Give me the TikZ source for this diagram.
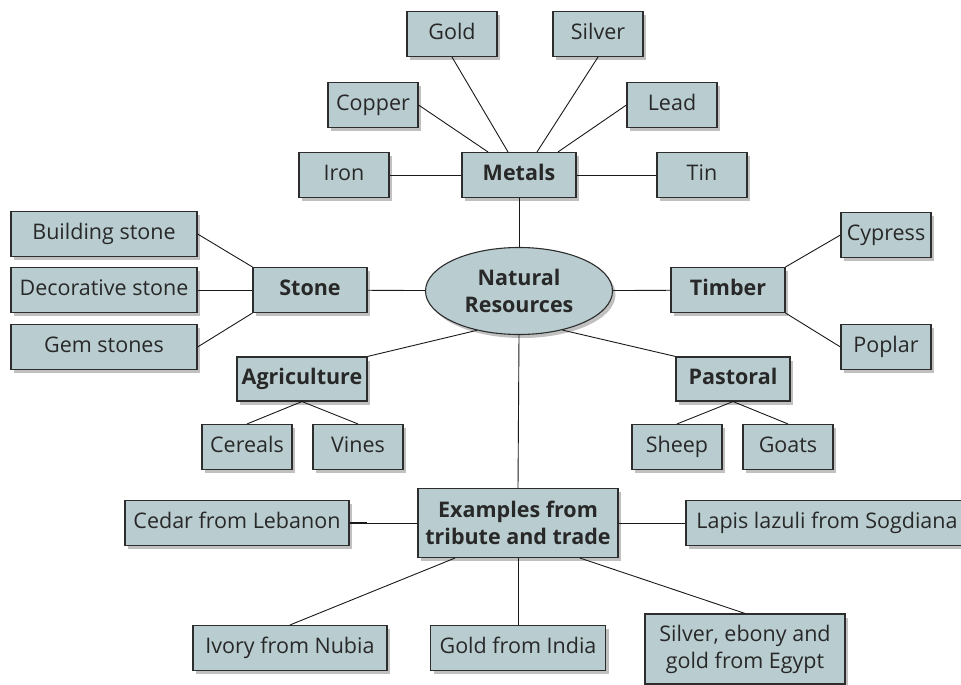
\documentclass[tikz,border=0pt]{standalone}
\usepackage{fontspec}
\setmainfont{Open Sans}
\usepackage{tikz}
\usepackage{xcolor}
\usetikzlibrary{shadows}
\usetikzlibrary{shapes.geometric}
\definecolor{res-fill}{RGB}{185,205,208}
\definecolor{res-line}{RGB}{45,45,45}
\definecolor{res-text}{RGB}{40,40,40}
\tikzset{
    res-box/.style = {draw=res-line, fill=res-fill, line width=1.1pt, rectangle, inner sep=0pt,
        minimum width=90pt, minimum height=45pt, text=res-text, align=center,
        text height=15pt, text depth=4pt,
        font=\fontsize{21.5}{27}\selectfont,
        drop shadow={shadow xshift=3pt, shadow yshift=-3.5pt, fill=black!45, opacity=0.55}},
    res-box-title/.style = {res-box, font=\fontsize{21.5}{27}\selectfont\bfseries, minimum width=114pt},
    res-two-lines/.style = {text height={}, text depth={}},
    res-ellipse/.style = {res-box-title, res-two-lines, ellipse, minimum width=187pt, minimum height=87pt},
    res-link/.style = {draw=black!90, line width=0.9pt},
}

\begin{document}
\begin{tikzpicture}[x=1pt, y=-1pt]
\useasboundingbox (0,0) rectangle (961,685);

\node [res-ellipse] (natres) at (519,291) {Natural\\Resources};

\node [res-box-title] (metals) at (519,175) {Metals};
\node [res-box] (gold) at (452,34) {Gold};
\node [res-box] (silver) at (598,34) {Silver};
\node [res-box] (copper) at (373,105) {Copper};
\node [res-box] (lead) at (672,105) {Lead};
\node [res-box] (iron) at (344,175) {Iron};
\node [res-box] (tin) at (702,175) {Tin};

\node [res-box-title] (stone) at (310,290) {Stone};
\node [res-box, minimum width=186pt] (building) at (104,234) {Building stone};
\node [res-box, minimum width=186pt] (decorative) at (104,290) {Decorative stone};
\node [res-box, minimum width=186pt] (gem) at (104,347) {Gem stones};

\node [res-box-title] (timber) at (728,290) {Timber};
\node [res-box] (cypress) at (886,235) {Cypress};
\node [res-box] (poplar) at (886,347) {Poplar};

\node [res-box-title, minimum width=130pt, minimum height=44pt] (agri) at (302,379) {Agriculture};
\node [res-box] (cereals) at (247,447) {Cereals};
\node [res-box] (vines) at (358,447) {Vines};

\node [res-box-title, minimum height=44pt] (pastoral) at (733,379) {Pastoral};
\node [res-box] (sheep) at (677,447) {Sheep};
\node [res-box] (goats) at (788,447) {Goats};

\node [res-box-title, res-two-lines, minimum width=200pt, minimum height=69pt] (exam) at (518,523) {Examples from\\tribute and trade};
\node [res-box, minimum width=224pt] (cedar) at (237,523) {Cedar from Lebanon};
\node [res-box, minimum width=282pt] (lapis) at (827,523) {Lapis lazuli from Sogdiana};
\node [res-box, minimum width=194pt] (ivory) at (290,648) {Ivory from Nubia};
\node [res-box, minimum width=175pt] (goldindia) at (518,648) {Gold from India};
\node [res-box, res-two-lines, minimum width=200pt, minimum height=70pt] (silverebony) at (745,649) {Silver, ebony and\\gold from Egypt};

\path [res-link] (metals.south) -- (natres.north);
\path [res-link] (copper.east) -- ([xshift=-31pt]metals.north);
\path [res-link] (gold.south) -- ([xshift=-11pt]metals.north);
\path [res-link] (silver.south) -- ([xshift=18pt]metals.north);
\path [res-link] (lead.west) -- ([xshift=39pt]metals.north);
\path [res-link] (iron) -- (metals);
\path [res-link] (tin) -- (metals);

\path [res-link] (building.east) -- (stone.north west);
\path [res-link] (decorative) -- (stone);
\path [res-link] (gem.east) -- (stone.south west);
\path [res-link] (stone) -- (natres);

\path [res-link] (natres) -- (timber);
\path [res-link] (timber.north east) -- (cypress.west);
\path [res-link] (timber.south east) -- (poplar.west);

\path [res-link] (natres.223) -- (agri.north east);
\path [res-link] (agri.south) -- (cereals.north);
\path [res-link] (agri.south) -- (vines.north);

\path [res-link] (natres.318) -- (pastoral.north west);
\path [res-link] (pastoral.south) -- (sheep.north);
\path [res-link] (pastoral.south) -- (goats.north);

\path [res-link] (natres.south) -- (exam.north);
\path [res-link] (exam) -- (cedar);
\path [res-link, line width=2.4pt] (cedar.east) -- ++(17pt,0);
\path [res-link] (exam) -- (lapis);
\path [res-link] ([xshift=-63pt]exam.south) -- (ivory.north);
\path [res-link] (exam.south) -- (goldindia.north);
\path [res-link] ([xshift=62pt]exam.south) -- (silverebony.north);
\end{tikzpicture}
\end{document}
